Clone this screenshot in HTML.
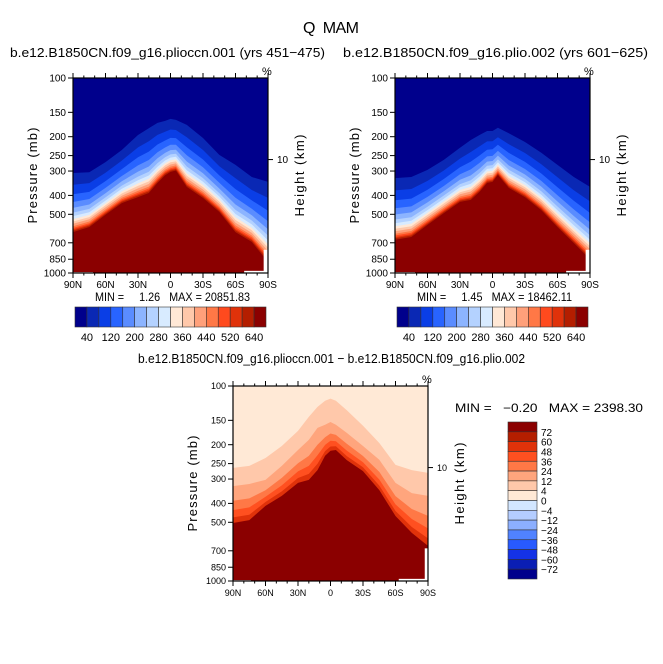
<!DOCTYPE html>
<html><head><meta charset="utf-8"><style>
html,body{margin:0;padding:0;background:#fff;}
svg{display:block;font-family:"Liberation Sans",sans-serif;}
svg text{white-space:pre;}
</style></head><body>
<svg id="chart" width="663" height="664" viewBox="0 0 663 664" xmlns="http://www.w3.org/2000/svg">
<text x="331" y="33" font-size="16" text-anchor="middle" textLength="56">Q  MAM</text>
</svg>
<script>
// ---- data ----
const lats = [90,75,60,45,30,20,12,5,0,-5,-15,-30,-45,-60,-75,-90];
// top-left: pressure (mb) of first contour (40) and last contour (640)
const p1Low  = [307,304,270,234,196,181,170,166,162,164,174,203,248,279,322,341];
const p1High = [617,581,503,438,408,389,345,315,303,298,362,412,486,617,693,879];
// top-right
const p2Low  = [326,322,296,263,228,208,196,187,187,180,192,213,242,279,322,362];
const p2High = [676,654,567,493,432,422,384,345,341,314,366,408,476,581,702,850];
// difference panel: contours 12, 24, 72
const d12 = [263,257,234,203,170,144,128,119,116,119,133,160,196,254,270,279];
const d24 = [326,318,303,257,213,189,164,158,153,158,174,203,239,314,354,366];
const d72 = [504,487,412,366,314,303,270,228,215,213,240,273,342,464,567,661];
const topLevels = ["40","120","200","280","360","440","520","640"];
const diffLevels = ["72","60","48","36","24","12","4","0","-4","-12","-24","-36","-48","-60","-72"];
const pTicks = [100,150,200,250,300,400,500,700,850,1000];
const latTicks = ["90N","60N","30N","0","30S","60S","90S"];
const mainColors = ["#00008c","#0a28b4","#0a3ee6","#2864ff","#5a8cff","#8cb4ff","#b4d2ff","#d8ebff","#ffe8d6","#ffc8aa","#ffa07a","#ff7846","#ff4a1e","#e0320a","#b41e00","#8b0000"];
const fracs = [0,.2,.36,.49,.59,.67,.73,.78,.82,.86,.9,.93,.955,.975,1];

const svg = document.getElementById('chart');
const NS = "http://www.w3.org/2000/svg";
function mk(tag, attrs, parent){const e=document.createElementNS(NS,tag);for(const k in attrs)e.setAttribute(k,attrs[k]);(parent||svg).appendChild(e);return e;}
function txt(s,attrs,parent){const e=mk('text',attrs,parent);e.textContent=s;return e;}

let clipId=0;
function panel(x0,y0,name){
  const W=195,H=195;
  const X=lat=>x0+(90-lat)/180*W;
  const Y=p=>y0+(Math.log10(p)-2)*H;
  const g=mk('g',{});
  
  
  const cid='clip'+(clipId++);
  const cp=mk('clipPath',{id:cid},g);mk('rect',{x:x0,y:y0,width:W,height:H},cp);
  const fg=mk('g',{'clip-path':'url(#'+cid+')'},g);
  return {X,Y,g,fg,x0,y0,W,H};
}
function band(P,arr,color,nm){
  let d='M'+P.X(lats[0])+','+(P.y0+P.H+5);
  arr.forEach((p,i)=>{d+=' L'+P.X(lats[i]).toFixed(1)+','+P.Y(p).toFixed(1);});
  d+=' L'+P.X(lats[lats.length-1])+','+(P.y0+P.H+5)+' Z';
  const e=mk('path',{d:d,fill:color},P.fg);
  
  
}
function logInterp(a,b,f){return a.map((v,i)=>Math.pow(10,Math.log10(v)+(Math.log10(b[i])-Math.log10(v))*f));}
function axes(P,fs){
  const {x0,y0,W,H,g}=P;
  mk('rect',{x:x0,y:y0,width:W,height:H,fill:'none',stroke:'#000','stroke-width':1.2},g);
  for(let k=0;k<=18;k++){
    const x=x0+k*W/18, L=(k%3==0)?5:2.5;
    mk('line',{x1:x,y1:y0,x2:x,y2:y0-L,stroke:'#000'},g);
    mk('line',{x1:x,y1:y0+H,x2:x,y2:y0+H+L,stroke:'#000'},g);
  }
  latTicks.forEach((t,i)=>{
    const e=txt(t,{x:x0+i*W/6,y:y0+H+15,'font-size':fs,'text-anchor':'middle'},g);
    
    
  });
  pTicks.forEach(p=>{
    const y=P.Y(p);
    mk('line',{x1:x0,y1:y,x2:x0-5,y2:y,stroke:'#000'},g);
    const e=txt(String(p),{x:x0-7,y:y+fs*0.35,'font-size':fs,'text-anchor':'end'},g);
    
    
  });
  const yk=P.Y(262);
  mk('line',{x1:x0+W,y1:yk,x2:x0+W+5,y2:yk,stroke:'#000'},g);
  txt('10',{x:x0+W+9,y:yk+3.5,'font-size':fs},g);
  txt('%',{x:x0+W-6,y:y0-3,'font-size':11},g);
  const ly=y0+H/2;
  const a=txt('Pressure (mb)',{x:0,y:0,'font-size':13,'text-anchor':'middle',transform:`translate(${x0-36},${ly}) rotate(-90)`,textLength:96},g);
  
  
  const b=txt('Height (km)',{x:0,y:0,'font-size':13,'text-anchor':'middle',transform:`translate(${x0+W+36},${ly}) rotate(-90)`,textLength:82},g);
  
  
}
function topPanel(x0,low,high,name,title,tx,tl,minmax){
  const P=panel(x0,78,name);
  mk('rect',{x:x0,y:78,width:195,height:195,fill:mainColors[0]},P.fg);
  fracs.forEach((f,k)=>band(P,logInterp(low,high,f),mainColors[k+1],'contour-band'));
  mk('rect',{x:P.X(-86),y:P.Y(760),width:12,height:100,fill:'#fff'},P.fg);
  mk('rect',{x:P.X(-68),y:P.Y(975),width:60,height:10,fill:'#fff'},P.fg);
  mk('rect',{x:x0,y:P.Y(990),width:20,height:10,fill:'#fff'},P.fg);
  axes(P,10);
  const t=txt(title,{x:tx,y:57,'font-size':13,textLength:tl,lengthAdjust:'spacingAndGlyphs'},svg);
  
  
  const m=txt(minmax,{x:x0+22,y:301,'font-size':12,textLength:155,lengthAdjust:'spacingAndGlyphs'},svg);
  
  
  const cb=mk('g',{});
  
  
  const cx=x0+2,cw=191/16;
  mainColors.forEach((c,i)=>mk('rect',{x:cx+i*cw,y:307,width:cw,height:20,fill:c,stroke:'#333','stroke-width':0.6},cb));
  topLevels.forEach((l,i)=>{
    const e=txt(l,{x:cx+(2*i+1)*cw,y:341,'font-size':11,'text-anchor':'middle'},cb);
    
    
  });
}
topPanel(73,p1Low,p1High,'plot-plioccn-001','b.e12.B1850CN.f09_g16.plioccn.001 (yrs 451\u2212475)',10,315,'MIN =     1.26   MAX = 20851.83');
topPanel(395,p2Low,p2High,'plot-plio-002','b.e12.B1850CN.f09_g16.plio.002 (yrs 601\u2212625)',343,305,'MIN =     1.45   MAX = 18462.11');

const dColors = ["#8b0000","#b41e00","#e0320a","#ff5020","#ff7846","#ffa57d","#ffc8aa","#ffe9d6","#d2e6ff","#b4cdff","#8cafff","#5082ff","#285aff","#1432e6","#0a1eb4","#00008c"];
const P=panel(233,386,'plot-difference');
mk('rect',{x:233,y:386,width:195,height:195,fill:dColors[7]},P.fg);
band(P,d12,dColors[6],'contour-band');
band(P,d24,dColors[5],'contour-band');
[.4,.65,.85].forEach((f,k)=>band(P,logInterp(d24,d72,f),dColors[4-k],'contour-band'));
band(P,d72,dColors[0],'contour-band');
mk('rect',{x:P.X(-87),y:P.Y(680),width:12,height:120,fill:'#fff'},P.fg);
mk('rect',{x:P.X(-63),y:P.Y(975),width:60,height:10,fill:'#fff'},P.fg);
mk('rect',{x:233,y:P.Y(990),width:18,height:10,fill:'#fff'},P.fg);
axes(P,9);
const dt=txt('b.e12.B1850CN.f09_g16.plioccn.001 \u2212 b.e12.B1850CN.f09_g16.plio.002',{x:138,y:363,'font-size':13,textLength:387,lengthAdjust:'spacingAndGlyphs'});


const dm=txt('MIN =   \u22120.20   MAX = 2398.30',{x:455,y:412,'font-size':12,textLength:188,lengthAdjust:'spacingAndGlyphs'});


const vcb=mk('g',{});


const ch=157/16;
dColors.forEach((c,i)=>mk('rect',{x:508,y:422+i*ch,width:29,height:ch,fill:c,stroke:'#333','stroke-width':0.6},vcb));
diffLevels.forEach((l,i)=>{
  const e=txt(l.replace('-','\u2212'),{x:541,y:422+(i+1)*ch+4,'font-size':10},vcb);
  
  
});
</script>
</body></html>
